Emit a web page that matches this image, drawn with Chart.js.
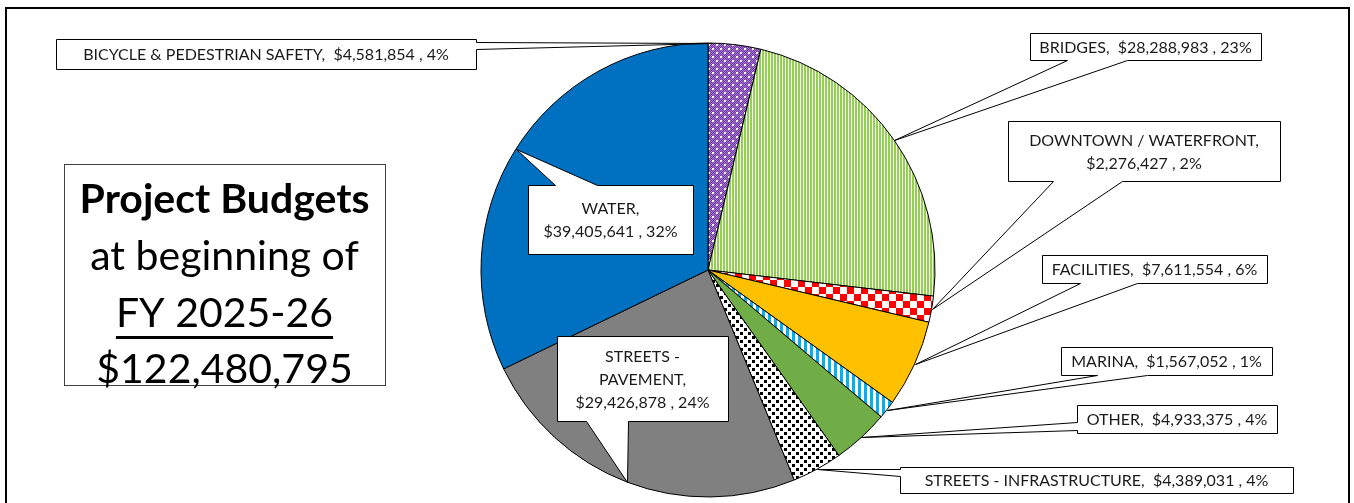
<!DOCTYPE html>
<html>
<head>
<meta charset="utf-8">
<script src="https://cdn.jsdelivr.net/npm/chart.js@4.4.1/dist/chart.umd.min.js"></script>
<style>
  html, body { margin: 0; padding: 0; background: #fff; }
  canvas { display: block; }
</style>
</head>
<body>
<canvas id="budgetChart" width="1354" height="503"></canvas>
<script>
const categories = [
  'BICYCLE & PEDESTRIAN SAFETY',
  'BRIDGES',
  'DOWNTOWN / WATERFRONT',
  'FACILITIES',
  'MARINA',
  'OTHER',
  'STREETS - INFRASTRUCTURE',
  'STREETS - PAVEMENT',
  'WATER'
];

const budgets = [
  4581854,   // bicycle & ped
  28288983,  // bridges
  2276427,   // downtown
  7611554,   // facilities
  1567052,   // marina
  4933375,   // other
  4389031,   // streets - infrastructure
  29426878,  // streets - pavement
  39405641   // water
];

const titleLines = ['Project Budgets', 'at beginning of', 'FY 2025-26'];

// callout boxes: [left, top, right, bottom], which edge the pointer leaves from
const callouts = [
  { box: [56, 39, 476, 69], side: 'right', base: [42, 49], wrap: 1, at: 0.05 },
  { box: [1030, 33, 1261, 60], side: 'bottom', base: [1067, 1127], wrap: 1 },
  { box: [1008, 121, 1280, 181], side: 'bottom', base: [1053, 1122], wrap: 2 },
  { box: [1042, 255, 1267, 283], side: 'bottom', base: [1080, 1137], wrap: 1 },
  { box: [1061, 347, 1272, 375], side: 'bottom', base: [1097, 1147], wrap: 1 },
  { box: [1077, 405, 1277, 433], side: 'left', base: [422, 430], wrap: 1 },
  { box: [900, 467, 1293, 493], side: 'left', base: [469, 476], wrap: 1 },
  { box: [557, 336, 728, 421], side: 'bottom', base: [586, 628], wrap: 3 },
  { box: [528, 185, 693, 254], side: 'top', base: [555, 597], wrap: 2 }
];

const total = budgets.reduce((a, b) => a + b, 0);
const money = v => '$' + v.toLocaleString('en-US');

function makePattern(size, draw) {
  const c = document.createElement('canvas');
  c.width = size; c.height = size;
  const g = c.getContext('2d');
  draw(g);
  return document.getElementById('budgetChart').getContext('2d').createPattern(c, 'repeat');
}

const purpleCheck = makePattern(8, g => {
  g.fillStyle = '#7030A0'; g.fillRect(0, 0, 8, 8);
  g.fillStyle = '#a77fd0';
  for (let y = 0; y < 8; y++) {
    for (let x = (y % 2); x < 8; x += 2) g.fillRect(x, y, 1, 1);
  }
  g.fillStyle = '#ffffff';
  g.fillRect(0, 0, 2, 2); g.fillRect(4, 4, 2, 2);
});
const greenStripes = makePattern(3, g => {
  g.fillStyle = '#92D050'; g.fillRect(0, 0, 3, 3);
  g.fillStyle = '#ffffff'; g.fillRect(2, 0, 1, 3);
});
const redCheck = makePattern(14, g => {
  g.fillStyle = '#ffffff'; g.fillRect(0, 0, 14, 14);
  g.fillStyle = '#FF0000'; g.fillRect(0, 0, 7, 7); g.fillRect(7, 7, 7, 7);
});
const blueStripes = makePattern(6, g => {
  g.fillStyle = '#ffffff'; g.fillRect(0, 0, 6, 6);
  g.fillStyle = '#00B0F0'; g.fillRect(0, 0, 3, 6);
});
const blackDots = makePattern(8, g => {
  g.fillStyle = '#ffffff'; g.fillRect(0, 0, 8, 8);
  g.fillStyle = '#000000'; g.fillRect(0, 0, 3, 3); g.fillRect(4, 4, 3, 3);
});

const sliceFills = [
  purpleCheck, greenStripes, redCheck, '#FFC000', blueStripes,
  '#70AD47', blackDots, '#808080', '#0070C0'
];

function labelLines(i) {
  const name = categories[i];
  const pct = Math.round(budgets[i] / total * 100) + '%';
  const val = money(budgets[i]) + ' , ' + pct;
  const wrap = callouts[i].wrap;
  if (wrap === 1) return [name + ',  ' + val];
  if (wrap === 2) return [name + ',', val];
  const parts = name.split(' - ');
  return [parts[0] + ' -', parts[1] + ',', val];
}

const frameAndCallouts = {
  id: 'frameAndCallouts',
  beforeDraw(chart) {
    const ctx = chart.ctx;
    ctx.save();
    ctx.fillStyle = '#ffffff';
    ctx.fillRect(0, 0, chart.width, chart.height);
    ctx.restore();
  },
  afterDatasetsDraw(chart) {
    const ctx = chart.ctx;
    const meta = chart.getDatasetMeta(0);
    ctx.save();
    meta.data.forEach((arc, i) => {
      const c = callouts[i];
      const p = arc.getProps(['x', 'y', 'startAngle', 'endAngle', 'outerRadius'], true);
      const f = c.at === undefined ? 0.5 : c.at;
      const a = p.startAngle + (p.endAngle - p.startAngle) * f;
      const tip = [p.x + p.outerRadius * Math.cos(a), p.y + p.outerRadius * Math.sin(a)];
      const [x1, y1, x2, y2] = c.box;
      const [b1, b2] = c.base;
      const pts = [[x1, y1]];
      if (c.side === 'top') pts.push([b1, y1], tip, [b2, y1]);
      pts.push([x2, y1]);
      if (c.side === 'right') pts.push([x2, b1], tip, [x2, b2]);
      pts.push([x2, y2]);
      if (c.side === 'bottom') pts.push([b2, y2], tip, [b1, y2]);
      pts.push([x1, y2]);
      if (c.side === 'left') pts.push([x1, b2], tip, [x1, b1]);

      ctx.beginPath();
      pts.forEach((pt, k) => {
        const px = Math.round(pt[0]) + 0.5, py = Math.round(pt[1]) + 0.5;
        if (k === 0) ctx.moveTo(px, py); else ctx.lineTo(px, py);
      });
      ctx.closePath();
      ctx.fillStyle = '#ffffff';
      ctx.fill();
      ctx.strokeStyle = '#000000';
      ctx.lineWidth = 1;
      ctx.stroke();

      const lines = labelLines(i);
      ctx.fillStyle = '#1a1a1a';
      ctx.font = '16px Lato';
      ctx.textAlign = 'center';
      ctx.textBaseline = 'middle';
      const lh = 23;
      const cx = (x1 + x2) / 2;
      const cy = (y1 + y2) / 2 + 1;
      lines.forEach((t, k) => {
        ctx.fillText(t, cx, cy + (k - (lines.length - 1) / 2) * lh);
      });
    });
    ctx.restore();
  },
  afterDraw(chart) {
    const ctx = chart.ctx;
    ctx.save();
    // outer frame
    ctx.strokeStyle = '#000000';
    ctx.lineWidth = 2;
    ctx.strokeRect(6, 8, 1343, 520);

    // title box
    ctx.lineWidth = 1;
    ctx.strokeStyle = '#404040';
    ctx.strokeRect(64.5, 164.5, 321, 221);
    const cx = 224.5;
    const rows = [...titleLines, money(total)];
    const baselines = [213, 270, 327, 383];
    ctx.fillStyle = '#000000';
    ctx.textAlign = 'center';
    ctx.textBaseline = 'alphabetic';
    rows.forEach((t, k) => {
      ctx.font = (k === 0 ? 'bold ' : '') + '41px Lato';
      ctx.fillText(t, cx, baselines[k]);
      if (k === 2) {
        const w = ctx.measureText(t).width;
        ctx.fillRect(cx - w / 2, baselines[k] + 9, w, 3);
      }
    });
    ctx.restore();
  }
};

new Chart(document.getElementById('budgetChart'), {
  type: 'pie',
  data: {
    labels: categories,
    datasets: [{
      data: budgets,
      backgroundColor: sliceFills,
      borderColor: '#000000',
      borderWidth: 1
    }]
  },
  options: {
    responsive: false,
    animation: false,
    radius: 227,
    layout: {
      padding: { left: 481, right: 419, top: 43, bottom: 6 }
    },
    plugins: {
      legend: { display: false },
      tooltip: { enabled: false }
    }
  },
  plugins: [frameAndCallouts]
});
</script>
</body>
</html>
